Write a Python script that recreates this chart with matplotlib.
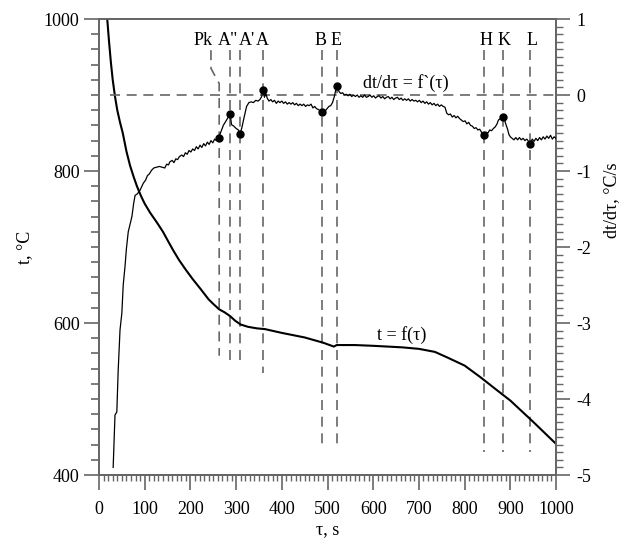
import numpy as np
import matplotlib
matplotlib.use('Agg')
import matplotlib.pyplot as plt
from matplotlib.ticker import MultipleLocator

plt.rcParams['font.family'] = ['Liberation Serif', 'DejaVu Serif']
plt.rcParams['font.size'] = 13
plt.rcParams['axes.unicode_minus'] = False

# temperature curve t = f(tau), left axis
tau_t = [15, 18, 22, 26, 30, 35, 40, 46, 52, 60, 68, 76, 83, 92, 100, 112, 127,
         140, 150, 162, 175, 190, 206, 222, 240, 252, 263, 275, 287, 298, 310,
         326, 345, 363, 400, 450, 491, 514, 520, 560, 600, 663, 700, 735, 761,
         800, 834, 870, 900, 950, 1000]
temp = [1030, 1000, 970, 943, 920, 898, 880, 864, 850, 826, 807, 792, 780, 767,
        757, 745, 732, 720, 709, 696, 683, 670, 657, 645, 631, 624, 618, 614,
        609, 603, 598, 595, 593, 592, 587, 581, 574, 569, 571, 571, 570, 568,
        566, 562, 555, 544, 529, 512, 498, 470, 441]

# cooling rate dt/dtau, right axis
tau_d = [31, 35, 39, 42, 46, 50, 53, 57, 60, 64, 68, 72, 76, 79, 84, 90, 94, 97,
         102, 106, 110, 115, 120, 126, 132, 138, 144, 148, 152, 155, 160, 164,
         168, 172, 176, 181, 185, 189, 193, 197, 201, 205, 209, 213, 217, 221,
         225, 229, 233, 237, 241, 245, 249, 253, 257, 262, 267, 272, 277, 282,
         287, 290, 295, 300, 305, 309, 313, 318, 323, 328, 333, 338, 343, 348,
         352, 356, 359, 362, 365, 368, 372, 376, 380, 384, 388, 392, 396, 400,
         404, 408, 412, 416, 420, 424, 428, 432, 436, 440, 444, 448, 452, 456,
         460, 464, 468, 472, 476, 480, 484, 487, 491, 495, 499, 503, 507, 511,
         515, 520, 523, 526, 529, 533, 537, 541, 545, 549, 553, 557, 561, 565,
         569, 573, 577, 581, 585, 589, 593, 597, 601, 605, 609, 613, 617, 621,
         625, 629, 633, 637, 641, 645, 649, 653, 657, 661, 665, 669, 673, 677,
         681, 685, 689, 693, 697, 701, 705, 709, 713, 717, 721, 725, 729, 733,
         737, 741, 745, 749, 753, 757, 761, 765, 769, 773, 777, 781, 785, 789,
         793, 797, 801, 805, 809, 813, 817, 821, 825, 829, 833, 838, 843, 847,
         851, 855, 859, 863, 867, 871, 874, 878, 883, 887, 890, 894, 897, 900,
         904, 908, 912, 916, 920, 924, 928, 932, 936, 940, 944, 948, 952, 956,
         960, 964, 968, 972, 976, 980, 984, 988, 992, 996, 1000]
rate = [-4.90, -4.21, -4.17, -3.62, -3.09, -2.87, -2.50, -2.25, -2.02, -1.80,
        -1.70, -1.60, -1.42, -1.32, -1.30, -1.25, -1.20, -1.16, -1.12, -1.06,
        -1.04, -0.99, -0.96, -0.95, -0.94, -0.95, -0.96, -0.91, -0.92, -0.88,
        -0.86, -0.89, -0.84, -0.85, -0.81, -0.79, -0.81, -0.76, -0.78, -0.73,
        -0.75, -0.71, -0.73, -0.68, -0.71, -0.66, -0.69, -0.64, -0.67, -0.62,
        -0.65, -0.60, -0.63, -0.58, -0.60, -0.56, -0.48, -0.40, -0.35, -0.30,
        -0.25, -0.39, -0.41, -0.44, -0.46, -0.51, -0.42, -0.28, -0.15, -0.10,
        -0.09, -0.10, -0.07, -0.08, -0.06, -0.02, 0.07, -0.03, 0.02, -0.04,
        -0.08, -0.06, -0.09, -0.07, -0.11, -0.08, -0.10, -0.08, -0.11, -0.09,
        -0.12, -0.10, -0.12, -0.10, -0.13, -0.11, -0.14, -0.12, -0.14, -0.12,
        -0.15, -0.13, -0.14, -0.12, -0.17, -0.15, -0.18, -0.19, -0.21, -0.23,
        -0.20, -0.21, -0.18, -0.15, -0.14, -0.10, -0.02, 0.12, 0.07, 0.04,
        0.02, 0.03, 0.00, 0.01, -0.01, 0.01, -0.02, 0.00, -0.02, 0.00, -0.03,
        -0.01, -0.03, 0.00, -0.03, -0.02, 0.00, -0.03, -0.01, -0.04, -0.02,
        -0.01, -0.04, -0.02, -0.05, -0.03, -0.02, -0.05, -0.03, -0.06, -0.04,
        -0.03, -0.06, -0.04, -0.07, -0.05, -0.07, -0.05, -0.08, -0.06, -0.08,
        -0.07, -0.09, -0.07, -0.10, -0.08, -0.11, -0.09, -0.12, -0.10, -0.13,
        -0.11, -0.14, -0.12, -0.15, -0.13, -0.15, -0.16, -0.24, -0.26, -0.25,
        -0.29, -0.27, -0.30, -0.28, -0.31, -0.33, -0.35, -0.34, -0.38, -0.36,
        -0.40, -0.41, -0.44, -0.43, -0.46, -0.45, -0.50, -0.53, -0.49, -0.50,
        -0.46, -0.47, -0.44, -0.42, -0.38, -0.33, -0.31, -0.29, -0.32, -0.38,
        -0.45, -0.52, -0.55, -0.57, -0.59, -0.56, -0.59, -0.56, -0.59, -0.57,
        -0.60, -0.58, -0.61, -0.64, -0.58, -0.61, -0.57, -0.60, -0.56, -0.59,
        -0.55, -0.58, -0.54, -0.57, -0.53, -0.58, -0.55, -0.57]

# characteristic points
pt_names = ['Pk', 'A"', "A'", 'A', 'B', 'E', 'H', 'K', 'L']
pt_tau = [262, 287, 309, 359, 487, 520, 843, 883, 944]
pt_rate = [-0.56, -0.25, -0.51, 0.07, -0.23, 0.12, -0.53, -0.29, -0.64]
line_bottom = [557, 549, 549, 534, 433, 433, 430, 430, 430]   # in t units
label_tau = [227, 282, 324, 358, 485, 519, 847, 887, 947]

gray = '#666666'

fig = plt.figure(figsize=(6.25, 5.46), dpi=100)
ax = fig.add_axes([0.1584, 0.130, 0.7312, 0.8352])
ax2 = ax.twinx()

ax.plot(tau_t, temp, color='black', lw=1.5, zorder=3)
ax2.plot(tau_d, rate, color='black', lw=0.9, zorder=3)
ax2.plot(pt_tau, pt_rate, 'o', color='black', ms=5, zorder=4)

dash = dict(color=gray, lw=1.2, ls=(0, (6, 4)), zorder=2)
ax2.plot([25, 1000], [0, 0], **dash)
for i, name in enumerate(pt_names):
    if name == 'Pk':
        ax.plot([245, 245, 263, 263], [959, 935, 915, line_bottom[i]], **dash)
    else:
        ax.plot([pt_tau[i], pt_tau[i]], [959, line_bottom[i]], **dash)
    ax.text(label_tau[i], 972, name, ha='center', va='center', fontsize=13)

ax.text(663, 584, 't = f(τ)', ha='center', va='center', fontsize=13)
ax2.text(672, 0.16, 'dt/dτ = f`(τ)', ha='center', va='center', fontsize=13)

ax.set_xlim(0, 1000)
ax.set_ylim(400, 1000)
ax2.set_ylim(-5, 1)

ax.xaxis.set_major_locator(MultipleLocator(100))
ax.xaxis.set_minor_locator(MultipleLocator(10))
ax.yaxis.set_major_locator(MultipleLocator(200))
ax.yaxis.set_minor_locator(MultipleLocator(20))
ax2.yaxis.set_major_locator(MultipleLocator(1))
ax2.yaxis.set_minor_locator(MultipleLocator(0.1))

for a in (ax, ax2):
    for s in a.spines.values():
        s.set_color(gray)
        s.set_linewidth(1.3)

ax.tick_params(axis='x', which='major', direction='out', length=11, width=1.2,
               color=gray, pad=8, top=False)
ax.tick_params(axis='x', which='minor', direction='out', length=4, width=1,
               color=gray, top=False)
ax.tick_params(axis='y', which='major', direction='out', length=11, width=1.2,
               color=gray, pad=3)
ax.tick_params(axis='y', which='minor', direction='out', length=6, width=1.2,
               color=gray)
ax2.tick_params(axis='y', which='major', direction='out', length=10, width=1.2,
                color=gray, pad=5)
ax2.tick_params(axis='y', which='minor', direction='out', length=5, width=1,
                color=gray)

ax.set_xlabel('τ, s', labelpad=2)
ax.set_ylabel('t, °C', labelpad=8)
fig.text(0.979, 0.634, 'dt/dτ, °C/s', rotation=90, ha='center', va='center',
         fontsize=13)

fig.savefig('out.png', dpi=100)
